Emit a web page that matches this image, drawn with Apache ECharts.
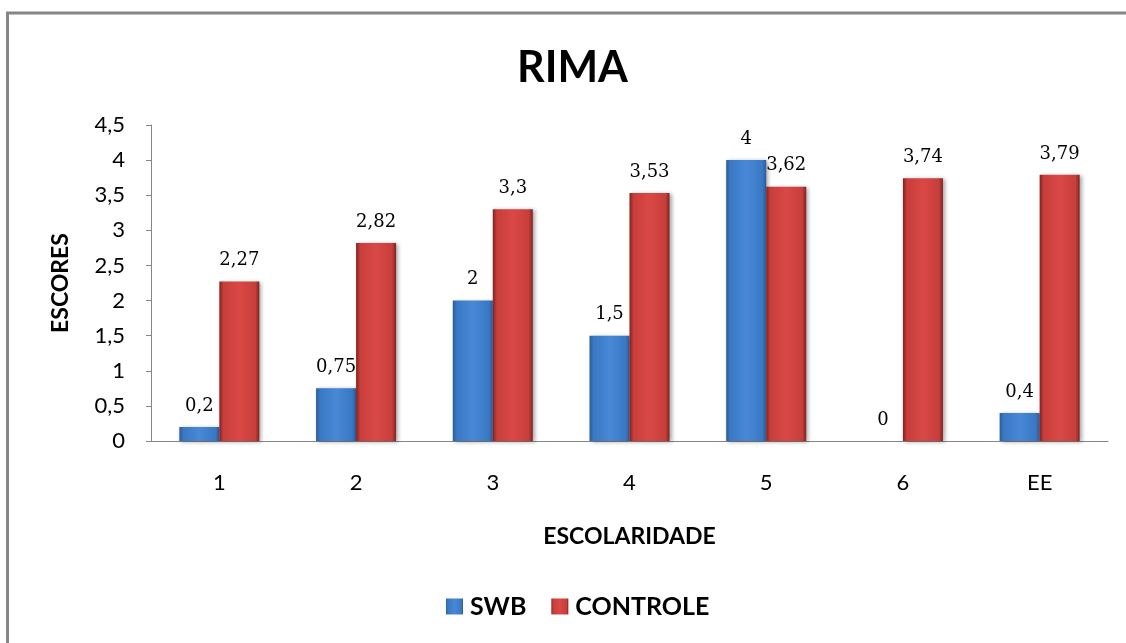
<!DOCTYPE html>
<html>
<head>
<meta charset="utf-8">
<title>RIMA</title>
<script src="https://cdn.jsdelivr.net/npm/echarts@6/dist/echarts.min.js"></script>
<style>
  html, body { margin: 0; padding: 0; background: #fff; }
  #chart { width: 1126px; height: 643px; }
</style>
</head>
<body>
<div id="chart"></div>
<script>
// Escolaridade categories and scores per group
const categories = ['1', '2', '3', '4', '5', '6', 'EE'];
const swbValues = [0.2, 0.75, 2, 1.5, 4, 0, 0.4];
const controleValues = [2.27, 2.82, 3.3, 3.53, 3.62, 3.74, 3.79];
const seriesNames = ['SWB', 'CONTROLE'];

const fmt = v => String(v).replace('.', ',');
const sans = 'Lato, "Open Sans", sans-serif';

// Bevel-like horizontal shading: darker edges, bright centre
function barGradient(dark, mid, light) {
  return new echarts.graphic.LinearGradient(0, 0, 1, 0, [
    { offset: 0, color: dark },
    { offset: 0.1, color: mid },
    { offset: 0.5, color: light },
    { offset: 0.9, color: mid },
    { offset: 1, color: dark }
  ]);
}

const blueFill = barGradient('#2b5c98', '#3a78c4', '#4888d6');
const redFill = barGradient('#7e2320', '#c73e3b', '#da4845');

const labelStyle = {
  show: true,
  position: 'top',
  distance: 12,
  color: '#000',
  fontSize: 18,
  fontFamily: "'DejaVu Serif', 'Liberation Serif', serif",
  formatter: p => fmt(p.value)
};

const chart = echarts.init(document.getElementById('chart'), null, { renderer: 'canvas' });

chart.setOption({
  animation: false,
  backgroundColor: '#ffffff',
  textStyle: { fontFamily: sans },
  title: {
    text: 'RIMA',
    left: 512,
    top: 42,
    textStyle: { fontSize: 43, fontWeight: 'bold', color: '#000', fontFamily: sans }
  },
  graphic: [{
    type: 'rect',
    shape: { x: 7.5, y: 13, width: 1200, height: 700 },
    style: { fill: 'none', stroke: '#868686', lineWidth: 3 },
    silent: true
  }],
  legend: {
    data: seriesNames,
    top: 594,
    left: 446,
    padding: 0,
    itemWidth: 17,
    itemHeight: 16,
    itemGap: 25,
    icon: 'rect',
    textStyle: { fontSize: 25, fontWeight: 'bold', color: '#000', fontFamily: sans, padding: [0, 0, 0, 2] }
  },
  grid: { left: 151, right: 18, top: 125, bottom: 202, containLabel: false },
  xAxis: {
    type: 'category',
    data: categories,
    name: 'ESCOLARIDADE',
    nameLocation: 'middle',
    nameGap: 84,
    nameTextStyle: { fontSize: 23, fontWeight: 'bold', color: '#000' },
    axisLine: { lineStyle: { color: '#868686', width: 1 } },
    axisTick: { show: false },
    axisLabel: { fontSize: 22, color: '#000', margin: 31 }
  },
  yAxis: {
    type: 'value',
    min: 0,
    max: 4.5,
    interval: 0.5,
    name: 'ESCORES',
    nameLocation: 'middle',
    nameGap: 79,
    nameRotate: 90,
    nameTextStyle: { fontSize: 23, fontWeight: 'bold', color: '#000' },
    axisLine: { show: true, lineStyle: { color: '#868686', width: 1 } },
    axisTick: { show: true, length: 5, lineStyle: { color: '#868686' } },
    splitLine: { show: false },
    axisLabel: { fontSize: 22, color: '#000', margin: 26, formatter: v => fmt(v) }
  },
  series: [
    {
      name: seriesNames[0],
      type: 'bar',
      data: swbValues,
      barWidth: 40,
      barGap: '0%',
      itemStyle: {
        color: blueFill,
        shadowColor: 'rgba(0,0,0,0.35)',
        shadowBlur: 4,
        shadowOffsetX: 2,
        shadowOffsetY: 1
      },
      label: labelStyle
    },
    {
      name: seriesNames[1],
      type: 'bar',
      data: controleValues,
      barWidth: 40,
      barGap: '0%',
      itemStyle: {
        color: redFill,
        shadowColor: 'rgba(0,0,0,0.35)',
        shadowBlur: 4,
        shadowOffsetX: 2,
        shadowOffsetY: 1
      },
      label: labelStyle
    }
  ]
});
</script>
</body>
</html>
